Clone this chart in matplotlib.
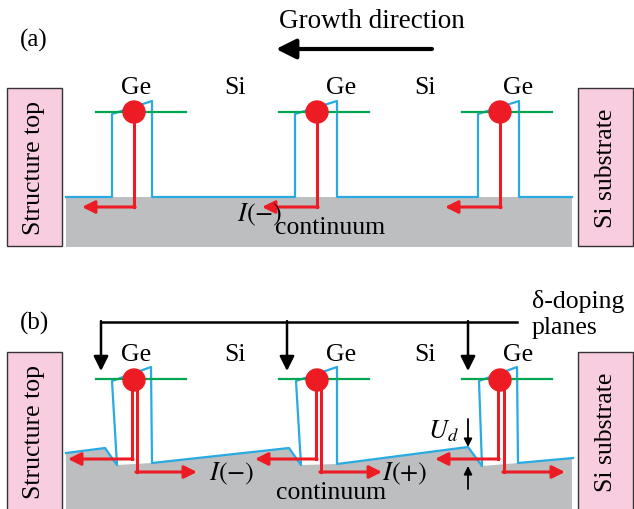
import matplotlib
matplotlib.use("Agg")
import matplotlib.pyplot as plt
from matplotlib.patches import Rectangle, Polygon, Circle

plt.rcParams['font.family'] = ['Liberation Serif', 'DejaVu Serif']
plt.rcParams['mathtext.fontset'] = 'stix'

# colours
RED = '#ed1c24'
BLUE = '#29abe2'
GREEN = '#00a651'
GREY = '#bcbec0'
PINK = '#f9cde0'

# geometry of the three Ge wells (pixels)
dot_x = [134, 317, 500]
ge_label_x = [136, 341, 518]
si_label_x = [235, 425]

# panel (a)
base_a = 198
well_a_left = [112, 295, 478]
well_a_right = [152, 337, 519]
well_a_top = [115, 102]          # left / right top of well
dot_a_y = 113
red_a_y = 208
red_a_tip = [82, 262, 445]

# panel (b)
doping_x = [101, 287, 468]
blue_b_x = [66, 105, 117, 112, 151, 152, 289, 301, 296, 337, 337, 468, 482, 479, 517, 518, 573]
blue_b_y = [454, 449, 466, 382, 368, 464, 449, 466, 382, 368, 465, 448, 467, 382, 368, 464, 459]
grey_b_x = [66, 105, 117, 152, 289, 301, 337, 468, 482, 518, 572, 572, 66]
grey_b_y = [454, 449, 466, 464, 449, 466, 465, 448, 467, 464, 459, 510, 510]
dot_b_y = 381
red_left_x = [132, 316, 498]
red_left_tip = [68, 255, 435]
red_left_y = 460
red_right_x = [137, 321, 504]
red_right_tip = [197, 382, 565]
red_right_y = 473

fig = plt.figure(figsize=(6.34, 5.10), dpi=100)
ax = fig.add_axes([0, 0, 1, 1])
ax.set_xlim(0, 634)
ax.set_ylim(510, 0)
ax.axis('off')


def arrow(x0, y0, x1, y1, color, lw, ms):
    ax.annotate('', xy=(x1, y1), xytext=(x0, y0),
                arrowprops=dict(arrowstyle='-|>', color=color, lw=lw,
                                mutation_scale=ms, shrinkA=0, shrinkB=0))


def side_boxes(top, bottom, cy):
    h = bottom - top
    ax.add_patch(Rectangle((7, top), 55, h, facecolor=PINK, edgecolor='#333333', lw=1, zorder=1))
    ax.add_patch(Rectangle((578, top), 55, h, facecolor=PINK, edgecolor='#333333', lw=1, zorder=1))
    ax.text(34, cy, 'Structure top', rotation=90, ha='center', va='center', fontsize=18.5)
    ax.text(606, cy, 'Si substrate', rotation=90, ha='center', va='center', fontsize=18.5)


# ---------- panel (a) ----------
ax.text(20, 40, '(a)', fontsize=18, ha='left', va='center')
ax.text(372, 22, 'Growth direction', fontsize=19.5, ha='center', va='center')
arrow(432, 50, 276, 50, 'black', 3, 30)

side_boxes(89, 247, 168)
ax.add_patch(Rectangle((66, base_a), 506, 50, facecolor=GREY, edgecolor='none', zorder=1))

bx = [66]
by = [base_a]
for l, r in zip(well_a_left, well_a_right):
    bx += [l, l, r, r]
    by += [base_a, well_a_top[0], well_a_top[1], base_a]
bx.append(572)
by.append(base_a)
ax.plot(bx, by, color=BLUE, lw=1.6, zorder=2)

for i, x in enumerate(dot_x):
    ax.plot([x - 38, x + 52], [dot_a_y, dot_a_y], color=GREEN, lw=1.6, zorder=2)
    ax.plot([x, x], [dot_a_y, red_a_y], color=RED, lw=2.2, zorder=3)
    arrow(x + 1.1, red_a_y, red_a_tip[i], red_a_y, RED, 2.2, 19)
    ax.add_patch(Circle((x, dot_a_y), 11, color=RED, zorder=4))
    ax.text(ge_label_x[i], 88, 'Ge', fontsize=18.5, ha='center', va='center')
for x in si_label_x:
    ax.text(x, 88, 'Si', fontsize=18.5, ha='center', va='center')

ax.text(260, 215, r'$I(-)$', fontsize=19, ha='center', va='center')
ax.text(330, 228, 'continuum', fontsize=18.5, ha='center', va='center')

# ---------- panel (b) ----------
ax.text(20, 323, '(b)', fontsize=18, ha='left', va='center')
ax.text(578, 302, 'δ-doping', fontsize=18.5, ha='center', va='center')
ax.text(564, 328, 'planes', fontsize=18.5, ha='center', va='center')

ax.plot([doping_x[0], 517], [323, 323], color='black', lw=1.8, zorder=2)
for x in doping_x:
    arrow(x, 322.1, x, 372, 'black', 1.8, 22)

side_boxes(353, 520, 432)
ax.add_patch(Polygon(list(zip(grey_b_x, grey_b_y)), closed=True, facecolor=GREY,
                     edgecolor='none', zorder=1))
ax.plot(blue_b_x, blue_b_y, color=BLUE, lw=1.6, zorder=2)

for i, x in enumerate(dot_x):
    ax.plot([x - 38, x + 52], [380, 380], color=GREEN, lw=1.6, zorder=2)
    xl = red_left_x[i]
    ax.plot([xl, xl], [dot_b_y, red_left_y], color=RED, lw=2.2, zorder=3)
    arrow(xl + 1.1, red_left_y, red_left_tip[i], red_left_y, RED, 2.2, 19)
    xr = red_right_x[i]
    ax.plot([xr, xr], [dot_b_y, red_right_y], color=RED, lw=2.2, zorder=3)
    arrow(xr - 1.1, red_right_y, red_right_tip[i], red_right_y, RED, 2.2, 19)
    ax.add_patch(Circle((x, dot_b_y), 11, color=RED, zorder=4))
    ax.text(ge_label_x[i], 355, 'Ge', fontsize=18.5, ha='center', va='center')
for x in si_label_x:
    ax.text(x, 355, 'Si', fontsize=18.5, ha='center', va='center')

ax.text(232, 474, r'$I(-)$', fontsize=19, ha='center', va='center')
ax.text(405, 474, r'$I(+)$', fontsize=19, ha='center', va='center')
ax.text(331, 493, 'continuum', fontsize=18.5, ha='center', va='center')

ax.text(443, 431, r'$U_d$', fontsize=19, ha='center', va='center')
arrow(468, 420, 468, 448, 'black', 1.3, 12)
arrow(468, 490, 468, 467, 'black', 1.3, 12)

fig.savefig('out.png', dpi=100)
